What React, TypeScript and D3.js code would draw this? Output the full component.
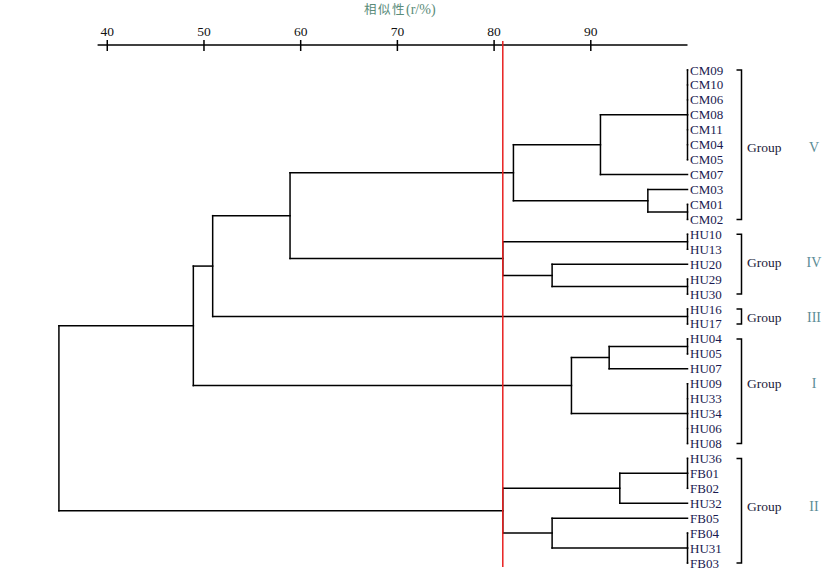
import React from "react";
import * as d3 from "d3";

const leaves = [
  "CM09", "CM10", "CM06", "CM08", "CM11", "CM04", "CM05", "CM07", "CM03", "CM01", "CM02",
  "HU10", "HU13", "HU20", "HU29", "HU30", "HU16", "HU17",
  "HU04", "HU05", "HU07", "HU09", "HU33", "HU34", "HU06", "HU08",
  "HU36", "FB01", "FB02", "HU32", "FB05", "FB04", "HU31", "FB03",
];

// [node id, children, similarity (r/%) at which they join]
const merges: [string, string[], number][] = [
  ["A", ["CM09", "CM10", "CM06", "CM08", "CM11", "CM04", "CM05"], 100],
  ["B", ["A", "CM07"], 91.0],
  ["C", ["CM01", "CM02"], 100],
  ["D", ["CM03", "C"], 95.9],
  ["E", ["B", "D"], 82.0],
  ["F", ["HU10", "HU13"], 100],
  ["G", ["HU29", "HU30"], 100],
  ["H", ["HU20", "G"], 86.0],
  ["I", ["F", "H"], 80.9],
  ["J", ["E", "I"], 58.9],
  ["K", ["HU16", "HU17"], 100],
  ["L", ["J", "K"], 50.9],
  ["M", ["HU04", "HU05"], 100],
  ["N", ["M", "HU07"], 91.9],
  ["O", ["HU09", "HU33", "HU34", "HU06", "HU08"], 100],
  ["P", ["N", "O"], 88.0],
  ["Q", ["L", "P"], 48.9],
  ["R", ["HU36", "FB01", "FB02"], 100],
  ["S", ["R", "HU32"], 93.0],
  ["T", ["FB04", "HU31", "FB03"], 100],
  ["U", ["FB05", "T"], 86.0],
  ["V", ["S", "U"], 80.9],
  ["W", ["Q", "V"], 35.0],
];

const axisTicks = [40, 50, 60, 70, 80, 90];
const cutoff = 80.9;

const groupNames = ["V", "IV", "III", "I", "II"];
const groupStart = ["CM09", "HU10", "HU16", "HU04", "HU36"];
const groupEnd = ["CM02", "HU30", "HU17", "HU08", "FB03"];

// layout: vertical shift of each group label from its bracket centre (px)
const groupLabelShift = [3, -2, 1, -8, -4];

const W = 833;
const H = 579;

export default function App() {
  const x = d3.scaleLinear().domain([39, 100]).range([97.6, 687.5]);
  const y = d3.scaleLinear().domain([0, leaves.length - 1]).range([70, 563]);

  const pos: Record<string, { x: number; y: number }> = {};
  leaves.forEach((l, i) => (pos[l] = { x: x(100), y: y(i) }));
  const lines: { x1: number; y1: number; x2: number; y2: number }[] = [];
  merges.forEach(([id, ch, sim]) => {
    const nx = x(sim);
    const first = pos[ch[0]];
    const last = pos[ch[ch.length - 1]];
    lines.push({ x1: nx, y1: first.y, x2: nx, y2: last.y });
    ch.forEach((c) => lines.push({ x1: pos[c].x, y1: pos[c].y, x2: nx, y2: pos[c].y }));
    pos[id] = { x: nx, y: (first.y + last.y) / 2 };
  });

  const axisY = 45;
  const serif = "'Liberation Serif', 'Times New Roman', serif";

  return (
    <svg width={W} height={H} style={{ position: "absolute", left: 0, top: 0, background: "#fff" }}>
      {/* title */}
      <text x={364} y={14} fontSize={12.5} fill="#5a8c7a" style={{ fontFamily: "'Noto Sans CJK SC', sans-serif", letterSpacing: 1.5 }}>
        相似性<tspan style={{ fontFamily: serif, letterSpacing: 0 }} fontSize={14}>(r/%)</tspan>
      </text>
      {/* axis */}
      <line x1={x(39)} x2={x(100)} y1={axisY} y2={axisY} stroke="#000" strokeWidth={1.5} />
      {axisTicks.map((t) => (
        <g key={t}>
          <line x1={x(t)} x2={x(t)} y1={axisY - 5} y2={axisY + 6} stroke="#000" strokeWidth={1.5} />
          <text x={x(t)} y={axisY - 9} textAnchor="middle" fontSize={13.5} fill="#111" style={{ fontFamily: serif }}>
            {t}
          </text>
        </g>
      ))}
      {/* dendrogram */}
      {lines.map((l, i) => (
        <line key={i} x1={l.x1} y1={l.y1} x2={l.x2} y2={l.y2} stroke="#000" strokeWidth={1.5} strokeLinecap="square" />
      ))}
      {/* cutoff line */}
      <line x1={x(cutoff)} x2={x(cutoff)} y1={41} y2={567} stroke="#e82020" strokeWidth={1.5} />
      {/* leaf labels */}
      {leaves.map((l, i) => (
        <text key={l} x={690} y={y(i) + 4.5} fontSize={13} fill="#1a1a50" style={{ fontFamily: serif }}>
          {l}
        </text>
      ))}
      {/* groups */}
      {groupNames.map((g, i) => {
        const y1 = y(leaves.indexOf(groupStart[i]));
        const y2 = y(leaves.indexOf(groupEnd[i]));
        const bx = 741.5;
        const my = (y1 + y2) / 2 + groupLabelShift[i];
        return (
          <g key={g}>
            <path d={`M${bx - 5},${y1}H${bx}V${y2}H${bx - 5}`} fill="none" stroke="#000" strokeWidth={1.5} />
            <text x={747} y={my + 4.5} fontSize={13.5} fill="#1a1a3a" style={{ fontFamily: serif }}>
              Group
            </text>
            <text x={814} y={my + 4.5} textAnchor="middle" fontSize={14} fill="#5b8c96" style={{ fontFamily: serif }}>
              {g}
            </text>
          </g>
        );
      })}
    </svg>
  );
}
